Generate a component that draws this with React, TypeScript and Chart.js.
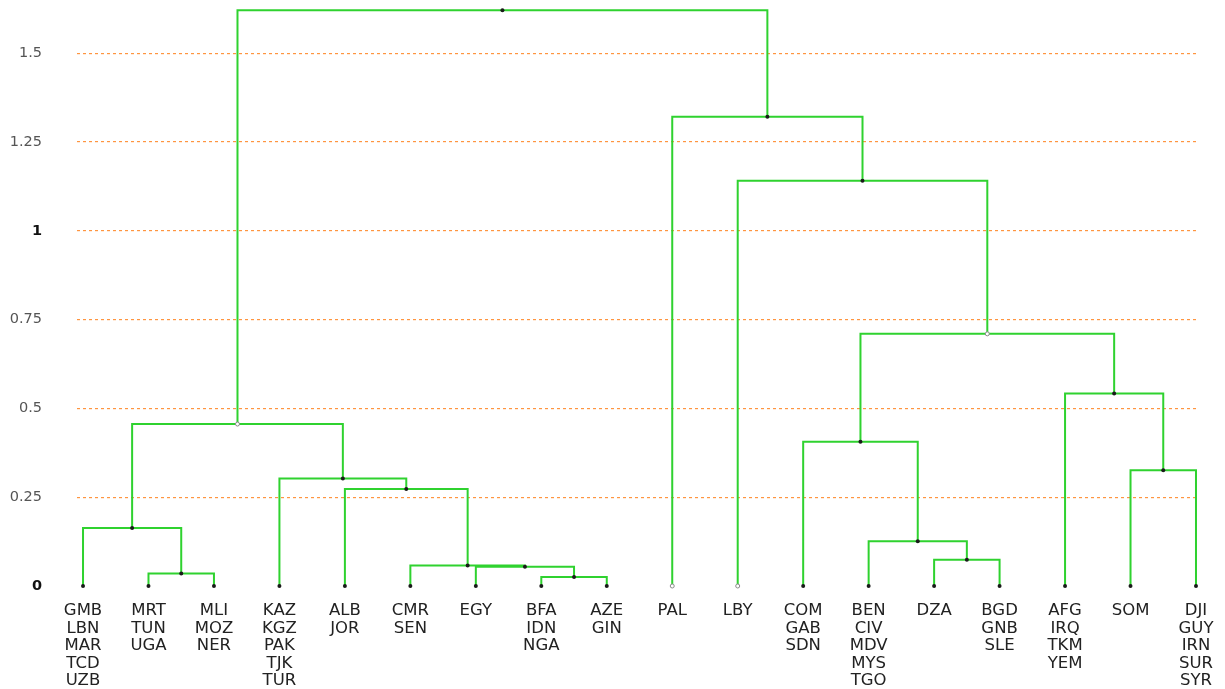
import React, { useEffect, useRef } from "react";
import { Chart, registerables } from "chart.js";

Chart.register(...registerables);

const leafLabels: string[][] = [
  ["GMB", "LBN", "MAR", "TCD", "UZB"],
  ["MRT", "TUN", "UGA"],
  ["MLI", "MOZ", "NER"],
  ["KAZ", "KGZ", "PAK", "TJK", "TUR"],
  ["ALB", "JOR"],
  ["CMR", "SEN"],
  ["EGY"],
  ["BFA", "IDN", "NGA"],
  ["AZE", "GIN"],
  ["PAL"],
  ["LBY"],
  ["COM", "GAB", "SDN"],
  ["BEN", "CIV", "MDV", "MYS", "TGO"],
  ["DZA"],
  ["BGD", "GNB", "SLE"],
  ["AFG", "IRQ", "TKM", "YEM"],
  ["SOM"],
  ["DJI", "GUY", "IRN", "SUR", "SYR"],
];

// merge k creates node id 18 + k
const mergeLeft = [1, 0, 7, 6, 5, 4, 3, 19, 13, 12, 11, 16, 15, 28, 10, 9, 25];
const mergeRight = [2, 18, 8, 20, 21, 22, 23, 24, 14, 26, 27, 17, 29, 30, 31, 32, 33];
const mergeHeights = [0.035, 0.163, 0.025, 0.054, 0.058, 0.273, 0.303, 0.456, 0.074, 0.126, 0.406, 0.326, 0.542, 0.71, 1.141, 1.321, 1.621];
const hollowNodes = [9, 10, 25, 31];

const yTicks = [0, 0.25, 0.5, 0.75, 1, 1.25, 1.5];

const GREEN = "#2fd22f";
const ORANGE = "#ff9540";

export default function App() {
  const ref = useRef<HTMLCanvasElement | null>(null);

  useEffect(() => {
    if (!ref.current) return;
    const n = leafLabels.length;
    const nodeX: number[] = leafLabels.map((_, i) => i);
    const nodeY: number[] = leafLabels.map(() => 0);
    mergeLeft.forEach((a, k) => {
      const b = mergeRight[k];
      nodeX[n + k] = (nodeX[a] + nodeX[b]) / 2;
      nodeY[n + k] = mergeHeights[k];
    });

    const linkSets: any[] = mergeLeft.map((a, k) => {
      const b = mergeRight[k];
      const h = mergeHeights[k];
      return {
        type: "scatter",
        data: [
          { x: nodeX[a], y: nodeY[a] },
          { x: nodeX[a], y: h },
          { x: nodeX[b], y: h },
          { x: nodeX[b], y: nodeY[b] },
        ],
        showLine: true,
        borderColor: GREEN,
        borderWidth: 2,
        pointRadius: 0,
        order: 2,
        clip: false,
      };
    });

    const solidPts = nodeX
      .map((x, i) => ({ x, y: nodeY[i], id: i }))
      .filter((p) => !hollowNodes.includes(p.id));
    const hollowPts = nodeX
      .map((x, i) => ({ x, y: nodeY[i], id: i }))
      .filter((p) => hollowNodes.includes(p.id));

    const gridColors = yTicks.map((v) => (v === 0 ? "rgba(0,0,0,0)" : ORANGE));

    const chart = new Chart(ref.current, {
      type: "scatter",
      data: {
        datasets: [
          {
            data: solidPts,
            pointRadius: 2,
            pointBackgroundColor: "#1a1a1a",
            pointBorderColor: "#1a1a1a",
            pointBorderWidth: 0,
            showLine: false,
            order: 0,
            clip: false,
          } as any,
          {
            data: hollowPts,
            pointRadius: 2,
            pointBackgroundColor: "#ffffff",
            pointBorderColor: "#8a8a8a",
            pointBorderWidth: 1,
            showLine: false,
            order: 1,
            clip: false,
          } as any,
          ...linkSets,
        ],
      },
      options: {
        animation: false,
        responsive: false,
        maintainAspectRatio: false,
        layout: { padding: { left: 0, top: 0, bottom: 0, right: 26 } },
        plugins: { legend: { display: false }, tooltip: { enabled: false } },
        scales: {
          x: {
            type: "linear",
            min: -0.092,
            max: 17.046,
            grid: { display: false, drawTicks: false },
            border: { display: false },
            afterBuildTicks: (scale: any) => {
              scale.ticks = leafLabels.map((_, i) => ({ value: i }));
            },
            afterFit: (scale: any) => {
              scale.height = 103;
              scale.paddingLeft = 0;
              scale.paddingRight = 0;
            },
            ticks: {
              autoSkip: false,
              maxRotation: 0,
              minRotation: 0,
              padding: 16,
              color: "#222222",
              font: { family: "'DejaVu Sans', sans-serif", size: 16.5, lineHeight: "17.6px" },
              callback: (v: any) => leafLabels[Math.round(Number(v))] ?? "",
            },
          },
          y: {
            type: "linear",
            min: 0,
            max: 1.636,
            grid: {
              drawTicks: false,
              color: gridColors,
              lineWidth: 1.2,
            },
            border: { display: false, dash: [3, 3] },
            afterBuildTicks: (scale: any) => {
              scale.ticks = yTicks.map((v) => ({ value: v }));
            },
            afterFit: (scale: any) => {
              scale.width = 77;
              scale.paddingTop = 0;
              scale.paddingBottom = 0;
            },
            ticks: {
              padding: 35,
              color: yTicks.map((v) => (Number.isInteger(v) ? "#111111" : "#555555")),
              font: (ctx: any) => ({
                family: "'DejaVu Sans', sans-serif",
                size: 14.5,
                weight: Number.isInteger(ctx.tick?.value) ? "bold" : "normal",
              }),
              callback: (v: any) => String(v),
            },
          },
        },
      } as any,
    });
    return () => chart.destroy();
  }, []);

  return (
    <div style={{ position: "absolute", left: 0, top: 0, width: 1225, height: 689, overflow: "hidden" }}>
      <canvas ref={ref} width={1225} height={689} style={{ display: "block" }} />
    </div>
  );
}
